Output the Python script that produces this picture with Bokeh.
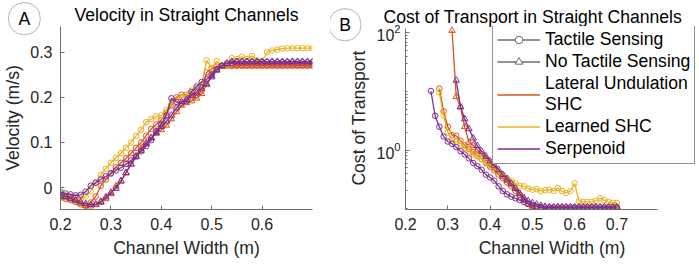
from bokeh.plotting import figure
from bokeh.layouts import row
from bokeh.models import Range1d, FixedTicker, NumeralTickFormatter, Legend, LegendItem
from bokeh.core.properties import value
from bokeh.embed import file_html
from bokeh.resources import INLINE

# ---------------- data ----------------
widths = [0.20, 0.21, 0.22, 0.23, 0.24, 0.25, 0.26, 0.27, 0.28, 0.29,
          0.30, 0.31, 0.32, 0.33, 0.34, 0.35, 0.36, 0.37, 0.38, 0.39,
          0.40, 0.41, 0.42, 0.43, 0.44, 0.45, 0.46, 0.47, 0.48, 0.49,
          0.50, 0.51, 0.52, 0.53, 0.54, 0.55, 0.56, 0.57, 0.58, 0.59,
          0.60, 0.61, 0.62, 0.63, 0.64, 0.65, 0.66, 0.67, 0.68, 0.69, 0.70]

# Velocity (m/s)
vel_lu_tactile = [-0.022, -0.025, -0.028, -0.032, -0.037, -0.041, -0.033, -0.020, 0.004, 0.018,
                  0.032, 0.045, 0.055, 0.065, 0.076, 0.088, 0.100, 0.115, 0.130, 0.140,
                  0.150, 0.166, 0.182, 0.200, 0.206, 0.206, 0.200, 0.205, 0.215, 0.255,
                  0.263, 0.268, 0.270, 0.270, 0.270, 0.270, 0.270, 0.270, 0.270, 0.270,
                  0.270, 0.270, 0.270, 0.270, 0.270, 0.270, 0.270, 0.270, 0.270, 0.270, 0.270]
vel_ls_tactile = [-0.015, -0.018, -0.020, -0.022, -0.025, -0.020, -0.008, 0.010, 0.028, 0.042,
                  0.055, 0.066, 0.076, 0.088, 0.100, 0.115, 0.128, 0.145, 0.152, 0.158,
                  0.160, 0.172, 0.185, 0.195, 0.200, 0.205, 0.215, 0.220, 0.228, 0.282,
                  0.265, 0.280, 0.270, 0.272, 0.287, 0.285, 0.290, 0.285, 0.292, 0.282,
                  0.280, 0.300, 0.304, 0.306, 0.308, 0.309, 0.309, 0.309, 0.309, 0.309, 0.309]
vel_s_tactile = [-0.010, -0.013, -0.015, -0.017, -0.016, -0.009, 0.004, 0.011, 0.018, 0.025,
                 0.031, 0.038, 0.044, 0.052, 0.060, 0.069, 0.080, 0.092, 0.105, 0.125,
                 0.140, 0.160, 0.198, 0.190, 0.186, 0.192, 0.212, 0.224, 0.234, 0.240,
                 0.250, 0.262, 0.270, 0.275, 0.277, 0.278, 0.278, 0.278, 0.278, 0.278,
                 0.278, 0.278, 0.278, 0.278, 0.278, 0.278, 0.278, 0.278, 0.278, 0.278, 0.278]
vel_lu_none = [-0.020, -0.023, -0.026, -0.030, -0.035, -0.040, -0.041, -0.038, -0.033, -0.025,
               -0.014, 0.003, 0.015, 0.032, 0.052, 0.070, 0.086, 0.099, 0.110, 0.120,
               0.128, 0.138, 0.152, 0.168, 0.182, 0.188, 0.192, 0.198, 0.208, 0.228,
               0.248, 0.262, 0.268, 0.270, 0.270, 0.270, 0.270, 0.270, 0.270, 0.270,
               0.270, 0.270, 0.270, 0.270, 0.270, 0.270, 0.270, 0.270, 0.270, 0.270, 0.270]
vel_s_none = [-0.018, -0.020, -0.024, -0.028, -0.032, -0.036, -0.038, -0.037, -0.031, -0.021,
              -0.011, -0.002, 0.014, 0.033, 0.052, 0.068, 0.082, 0.097, 0.110, 0.122,
              0.135, 0.147, 0.160, 0.176, 0.190, 0.195, 0.204, 0.210, 0.220, 0.230,
              0.245, 0.260, 0.270, 0.275, 0.279, 0.279, 0.279, 0.279, 0.279, 0.279,
              0.279, 0.279, 0.279, 0.279, 0.279, 0.279, 0.279, 0.279, 0.279, 0.279, 0.279]

# Cost of transport (only where the snake moved forward)
cot_lu_tactile_x = widths[8:]
cot_lu_tactile = [11.2, 4.6, 2.5, 1.8, 1.75, 1.45, 1.2, 1.05, 0.92, 0.8,
                  0.7, 0.6, 0.52, 0.45, 0.38, 0.33, 0.28, 0.24, 0.2, 0.17,
                  0.14, 0.12, 0.102, 0.098, 0.097, 0.097, 0.097, 0.097, 0.097, 0.097,
                  0.097, 0.097, 0.097, 0.097, 0.097, 0.097, 0.097, 0.097, 0.097, 0.097,
                  0.097, 0.097, 0.097]
cot_ls_tactile_x = widths[8:]
cot_ls_tactile = [9.6, 3.9, 2.0, 1.5, 1.4, 1.3, 1.1, 0.95, 0.85, 0.78,
                  0.7, 0.62, 0.55, 0.48, 0.42, 0.38, 0.33, 0.3, 0.27, 0.245,
                  0.24, 0.22, 0.21, 0.215, 0.2, 0.205, 0.21, 0.2, 0.225, 0.2,
                  0.185, 0.2, 0.27, 0.135, 0.13, 0.13, 0.13, 0.135, 0.15, 0.14,
                  0.13, 0.125, 0.125]
cot_s_tactile_x = widths[6:]
cot_s_tactile = [10.2, 3.85, 2.5, 1.7, 1.4, 1.28, 1.12, 0.96, 0.84, 0.72,
                 0.6, 0.53, 0.46, 0.38, 0.34, 0.3, 0.24, 0.2, 0.175, 0.16,
                 0.15, 0.14, 0.13, 0.12, 0.112, 0.108, 0.106, 0.105, 0.105, 0.105,
                 0.105, 0.105, 0.105, 0.105, 0.105, 0.105, 0.105, 0.105, 0.105, 0.105,
                 0.105, 0.105, 0.105, 0.105, 0.105]
cot_lu_none_x = widths[11:]
cot_lu_none = [110.0, 8.2, 5.4, 2.5, 1.35, 1.2, 1.0, 0.85, 0.72, 0.6,
               0.5, 0.42, 0.35, 0.3, 0.26, 0.22, 0.18, 0.15, 0.12, 0.103,
               0.099, 0.097, 0.097, 0.097, 0.097, 0.097, 0.097, 0.097, 0.097, 0.097,
               0.097, 0.097, 0.097, 0.097, 0.097, 0.097, 0.097, 0.097, 0.097, 0.097]
cot_s_none_x = widths[12:]
cot_s_none = [15.5, 5.5, 3.4, 2.3, 1.6, 1.18, 0.95, 0.78, 0.65, 0.55,
              0.46, 0.38, 0.32, 0.27, 0.22, 0.18, 0.15, 0.135, 0.125, 0.118,
              0.112, 0.108, 0.106, 0.106, 0.106, 0.106, 0.106, 0.106, 0.106, 0.106,
              0.106, 0.106, 0.106, 0.106, 0.106, 0.106, 0.106, 0.106, 0.106]

x_ticks_left = [0.2, 0.3, 0.4, 0.5, 0.6]
y_ticks_left = [0, 0.1, 0.2, 0.3]
x_ticks_right = [0.2, 0.3, 0.4, 0.5, 0.6, 0.7]
y_ticks_right = [1, 100]
y_minor_right = [0.1, 0.2, 0.3, 0.4, 0.5, 0.6, 0.7, 0.8, 0.9,
                 2, 3, 4, 5, 6, 7, 8, 9, 10, 20, 30, 40, 50, 60, 70, 80, 90, 100]

legend_labels = ["Tactile Sensing", "No Tactile Sensing", "Lateral Undulation\nSHC",
                 "Learned SHC", "Serpenoid"]
panel_letters = ["A", "B"]

# ---------------- style ----------------
ORANGE = "#D95319"
YELLOW = "#EDB120"
PURPLE = "#7E2F8E"
FONT = "Liberation Sans"
TXT = "#262626"
AXC = "#6e6e6e"
TICK_FS = "16px"
LAB_FS = "17.6px"
NAN = float("nan")


def style(p):
    for ax in (p.xaxis[0], p.yaxis[0]):
        ax.axis_line_color = AXC
        ax.major_tick_line_color = AXC
        ax.minor_tick_line_color = AXC
        ax.major_tick_in = 4
        ax.major_tick_out = 0
        ax.minor_tick_in = 2
        ax.minor_tick_out = 0
        ax.major_label_text_font = FONT
        ax.major_label_text_font_size = TICK_FS
        ax.major_label_text_color = TXT
        ax.axis_label_text_font = FONT
        ax.axis_label_text_font_size = LAB_FS
        ax.axis_label_text_font_style = "normal"
        ax.axis_label_text_color = TXT
    p.xgrid.visible = False
    p.ygrid.visible = False
    p.outline_line_color = None
    p.background_fill_color = "white"
    p.border_fill_color = "white"
    p.title.text_font = FONT
    p.title.text_font_size = LAB_FS
    p.title.text_font_style = "normal"
    p.title.text_color = "#000000"


def series(p, x, y, color, marker, size):
    p.line(x, y, line_color=color, line_width=1.3)
    p.scatter(x, y, marker=marker, size=size, line_color=color, fill_color=None, line_width=1)


def panel_letter(p, text, x, y):
    # text glyph at overlay level: not clipped to the plot frame
    common = dict(text=[text], text_font=value(FONT), text_font_size=value(LAB_FS),
                  text_color="#000000", text_align="center", text_baseline="middle",
                  level="overlay")
    try:
        p.text([x], [y], border_line_color="#b4b4b4", border_line_width=1,
               padding=(10, 6), border_radius=15, **common)
    except Exception:
        p.text([x], [y], **common)


# ---------------- left: velocity ----------------
p1 = figure(width=330, height=264, x_range=Range1d(0.2, 0.7), y_range=Range1d(-0.0486, 0.357),
            output_backend="svg", toolbar_location=None,
            min_border_left=54, min_border_right=18, min_border_top=24, min_border_bottom=54,
            title="Velocity in Straight Channels")
style(p1)
p1.title.align = "center"
p1.title.standoff = 4
p1.xaxis.ticker = FixedTicker(ticks=x_ticks_left, minor_ticks=[])
p1.yaxis.ticker = FixedTicker(ticks=y_ticks_left, minor_ticks=[])
p1.xaxis.formatter = NumeralTickFormatter(format="0.[0]")
p1.yaxis.formatter = NumeralTickFormatter(format="0.[0]")
p1.xaxis.axis_label = "Channel Width (m)"
p1.yaxis.axis_label = "Velocity (m/s)"
p1.xaxis.major_label_standoff = 8
p1.yaxis.major_label_standoff = 8
p1.xaxis.axis_label_standoff = 5
p1.yaxis.axis_label_standoff = 4

series(p1, widths, vel_lu_tactile, ORANGE, "circle", 5.5)
series(p1, widths, vel_lu_none, ORANGE, "triangle", 6.5)
series(p1, widths, vel_ls_tactile, YELLOW, "circle", 5.5)
series(p1, widths, vel_s_tactile, PURPLE, "circle", 5.5)
series(p1, widths, vel_s_none, PURPLE, "triangle", 6.5)
panel_letter(p1, panel_letters[0], 0.1283, 0.3744)

# ---------------- right: cost of transport ----------------
p2 = figure(width=369, height=264, x_range=Range1d(0.2, 0.8927), y_range=Range1d(0.0965, 128.8),
            y_axis_type="log", output_backend="svg", toolbar_location=None,
            min_border_left=75, min_border_right=1, min_border_top=19, min_border_bottom=55,
            title="Cost of Transport in Straight Channels")
style(p2)
p2.title.align = "left"
p2.title.offset = -22
p2.title.standoff = 0
p2.xaxis.ticker = FixedTicker(ticks=x_ticks_right, minor_ticks=[])
p2.yaxis.ticker = FixedTicker(ticks=y_ticks_right, minor_ticks=y_minor_right)
p2.xaxis.formatter = NumeralTickFormatter(format="0.[0]")
p2.xaxis.bounds = (0.2, 0.795)
p2.yaxis.bounds = (0.0965, 119)
p2.xaxis.axis_label = "Channel Width (m)"
p2.yaxis.axis_label = "Cost of Transport"
p2.xaxis.major_label_standoff = 8
p2.yaxis.major_label_standoff = 5
p2.xaxis.axis_label_standoff = 5
p2.yaxis.axis_label_standoff = 4

series(p2, cot_lu_tactile_x, cot_lu_tactile, ORANGE, "circle", 5.5)
series(p2, cot_lu_none_x, cot_lu_none, ORANGE, "triangle", 6.5)
series(p2, cot_ls_tactile_x, cot_ls_tactile, YELLOW, "circle", 5.5)
series(p2, cot_s_tactile_x, cot_s_tactile, PURPLE, "circle", 5.5)
series(p2, cot_s_none_x, cot_s_none, PURPLE, "triangle", 6.5)
panel_letter(p2, panel_letters[1], 0.057, 138)

# legend proxies (a single NaN point: nothing is drawn in the plot itself)
g_l1 = p2.line([NAN], [NAN], line_color=AXC, line_width=1.3)
g_m1 = p2.scatter([NAN], [NAN], marker="circle", size=9, line_color=AXC, fill_color="white", line_width=1)
g_l2 = p2.line([NAN], [NAN], line_color=AXC, line_width=1.3)
g_m2 = p2.scatter([NAN], [NAN], marker="triangle", size=10, line_color=AXC, fill_color="white", line_width=1)
g_o = p2.line([NAN], [NAN], line_color=ORANGE, line_width=1.3)
g_y = p2.line([NAN], [NAN], line_color=YELLOW, line_width=1.3)
g_p = p2.line([NAN], [NAN], line_color=PURPLE, line_width=1.3)

legend = Legend(items=[
    LegendItem(label=legend_labels[0], renderers=[g_l1, g_m1]),
    LegendItem(label=legend_labels[1], renderers=[g_l2, g_m2]),
    LegendItem(label=legend_labels[2], renderers=[g_o]),
    LegendItem(label=legend_labels[3], renderers=[g_y]),
    LegendItem(label=legend_labels[4], renderers=[g_p]),
], location=(87, 45))
legend.label_text_font = FONT
legend.label_text_font_size = LAB_FS
legend.label_text_color = "#000000"
legend.label_text_line_height = 0.95
legend.glyph_width = 43
legend.glyph_height = 19
legend.label_height = 19
legend.label_standoff = 5
legend.spacing = 1
legend.padding = 4
legend.margin = 0
legend.border_line_color = TXT
legend.border_line_width = 1
legend.background_fill_color = "white"
legend.background_fill_alpha = 1.0
p2.add_layout(legend)

layout = row(p1, p2)
open("out.html", "w").write(file_html(layout, INLINE))
